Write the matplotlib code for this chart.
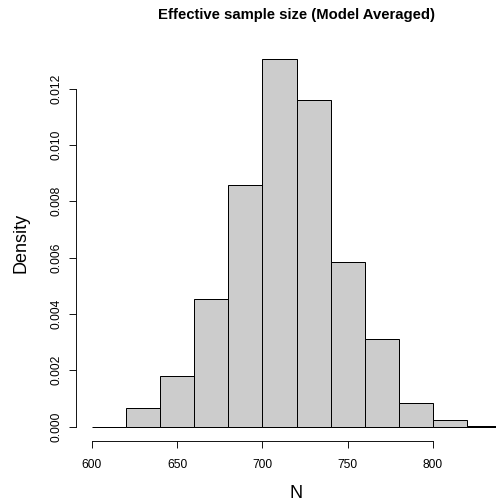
import numpy as np
import matplotlib
matplotlib.use("Agg")
import matplotlib.pyplot as plt

# histogram bins (left edges) and density heights
bin_edges = [600, 620, 640, 660, 680, 700, 720, 740, 760, 780, 800, 820, 840]
densities = [0.0, 0.00064, 0.00178, 0.00454, 0.00857, 0.01305,
             0.01160, 0.00585, 0.00311, 0.00084, 0.00024, 0.00002]
x_ticks = [600, 650, 700, 750, 800]
y_ticks = [0.000, 0.002, 0.004, 0.006, 0.008, 0.010, 0.012]

plt.rcParams['font.family'] = ['Liberation Sans', 'DejaVu Sans']

W, H = 496, 504
fig = plt.figure(figsize=(W / 72, H / 72), dpi=72)

# plot region in pixels (R style, 4% padding around data range)
left_px, right_px, top_px, bottom_px = 75.6, 517.5, 44.3, 441.2
ax = fig.add_axes([left_px / W, 1 - bottom_px / H,
                   (right_px - left_px) / W, (bottom_px - top_px) / H])

edges = np.array(bin_edges)
ax.bar(edges[:-1], densities, width=np.diff(edges), align='edge',
       color='#cccccc', edgecolor='black', linewidth=1.0)

ymax = max(densities)
ax.set_xlim(600 - 0.04 * 240, 840 + 0.04 * 240)
ax.set_ylim(-0.04 * ymax, ymax * 1.04)

for s in ['top', 'right']:
    ax.spines[s].set_visible(False)
ax.spines['bottom'].set_bounds(600, 800)
ax.spines['left'].set_bounds(0, 0.012)
ax.spines['bottom'].set_linewidth(0.9)
ax.spines['left'].set_linewidth(0.9)

ax.set_xticks(x_ticks)
ax.set_xticklabels([str(t) for t in x_ticks])
ax.set_yticks(y_ticks)
ax.set_yticklabels(["%.3f" % t for t in y_ticks], rotation=90, va='center')
ax.tick_params(axis='both', direction='out', length=7, width=0.9,
               labelsize=12)
ax.tick_params(axis='x', pad=11)
ax.tick_params(axis='y', pad=6)

ax.set_xlabel("N", fontsize=18, labelpad=14)
ax.set_ylabel("Density", fontsize=18, labelpad=21)
fig.text((left_px + right_px) / 2 / W, 1 - 15 / H,
         "Effective sample size (Model Averaged)",
         ha='center', va='center', fontsize=14.9, fontweight='bold')

fig.savefig("out.png", dpi=72)
